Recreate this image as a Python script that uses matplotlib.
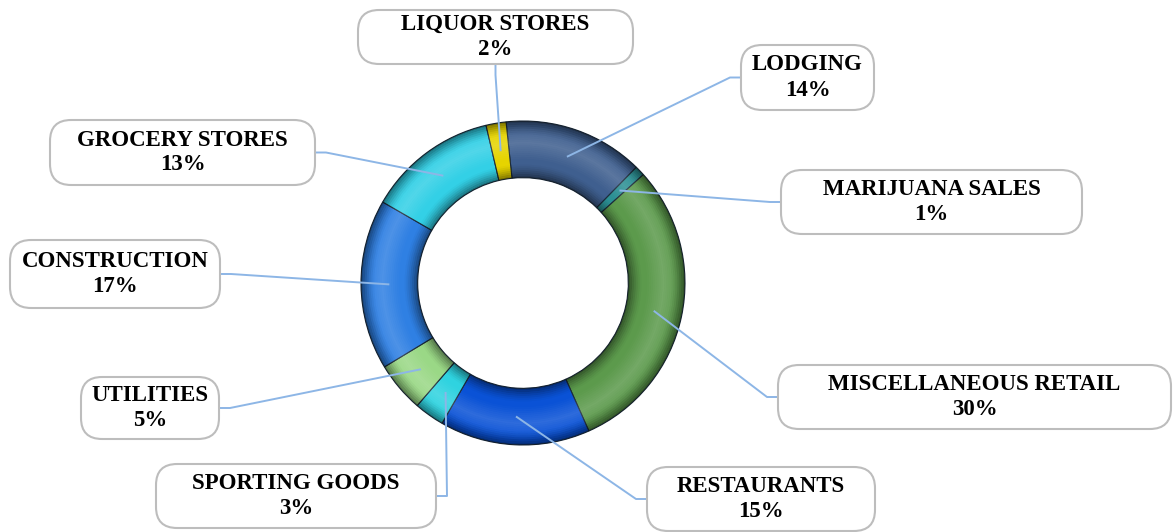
import numpy as np
import matplotlib.pyplot as plt
from matplotlib.patches import FancyBboxPatch, Wedge
from matplotlib.lines import Line2D

# Data
categories = ['LODGING', 'MARIJUANA SALES', 'MISCELLANEOUS RETAIL', 'RESTAURANTS',
              'SPORTING GOODS', 'UTILITIES', 'CONSTRUCTION', 'GROCERY STORES', 'LIQUOR STORES']
shares = [14, 1, 30, 15, 3, 5, 17, 13, 2]
colors = ['#3f5f8f', '#2b8f93', '#5c9a4c', '#0a52d6', '#2fd3e0',
          '#9ad886', '#2f80e3', '#33d0e6', '#e6d400']

# label boxes in reference pixels: left, top, right, bottom
boxes = [(741, 45, 874, 110), (781, 170, 1082, 234), (778, 365, 1171, 429),
         (647, 467, 875, 531), (156, 464, 436, 528), (81, 377, 219, 439),
         (10, 240, 220, 308), (50, 120, 315, 185), (358, 10, 633, 64)]

W, H = 1173, 532
fig = plt.figure(figsize=(W / 100, H / 100), dpi=100)

# donut placement (pixels)
cx, cy, R = 523, 283, 162
ring = 0.35
ax = fig.add_axes([(cx - R) / W, (H - cy - R) / H, 2 * R / W, 2 * R / H])
wedges, _ = ax.pie(shares, colors=colors, startangle=96, counterclock=False, radius=1,
                   wedgeprops=dict(width=ring, edgecolor='#1c2b3a', linewidth=0.8))

# fake the tube shading: dark near the rims, lighter in the middle
n = 30
r0 = 1 - ring
for k in range(n):
    a = r0 + ring * k / n
    t = (k + 0.5) / n
    d = abs(t - 0.5) * 2
    shade = max(0, d - 0.5) / 0.5
    if shade > 0:
        ax.add_patch(Wedge((0, 0), a + ring / n, 0, 360, width=ring / n,
                           color='black', alpha=0.5 * shade ** 1.5, lw=0))
    hl = max(0, 0.3 - abs(t - 0.62)) / 0.3
    if hl > 0:
        ax.add_patch(Wedge((0, 0), a + ring / n, 0, 360, width=ring / n,
                           color='white', alpha=0.15 * hl, lw=0))
ax.set_xlim(-1, 1)
ax.set_ylim(-1, 1)
ax.set_aspect('equal')
ax.axis('off')

# labels and leader lines (Excel style: short stub off the box, then straight to the ring)
stub = 11
for w, name, pct, (l, t, r, b) in zip(wedges, categories, shares, boxes):
    mid = np.radians((w.theta1 + w.theta2) / 2)
    rm = 1 - ring / 2
    px, py = ax.transData.transform((rm * np.cos(mid), rm * np.sin(mid)))
    py = H - py  # to top-down pixels like the boxes
    my = (t + b) / 2
    mx = (l + r) / 2
    if l <= px <= r and py > b:
        ex, ey, sx, sy = mx, b, mx, b + stub
    elif px > r:
        ex, ey, sx, sy = r, my, r + stub, my
    else:
        ex, ey, sx, sy = l, my, l - stub, my
    xs = [px / W, sx / W, ex / W]
    ys = [1 - py / H, 1 - sy / H, 1 - ey / H]
    fig.add_artist(Line2D(xs, ys, transform=fig.transFigure, color='#8db6e6', lw=1.4,
                          solid_capstyle='butt', zorder=2))
    box = FancyBboxPatch((l / W, (H - b) / H), (r - l) / W, (b - t) / H,
                         boxstyle='round,pad=0,rounding_size=0.018',
                         transform=fig.transFigure, facecolor='white',
                         edgecolor='#bdbdbd', linewidth=1.5,
                         mutation_aspect=W / H, zorder=3)
    fig.add_artist(box)
    fig.text(mx / W, 1 - my / H, f'{name}\n{pct}%', ha='center', va='center',
             family='Liberation Serif', fontweight='bold', fontsize=16.5,
             linespacing=1.25, zorder=4)

fig.savefig('out.png', dpi=100)
